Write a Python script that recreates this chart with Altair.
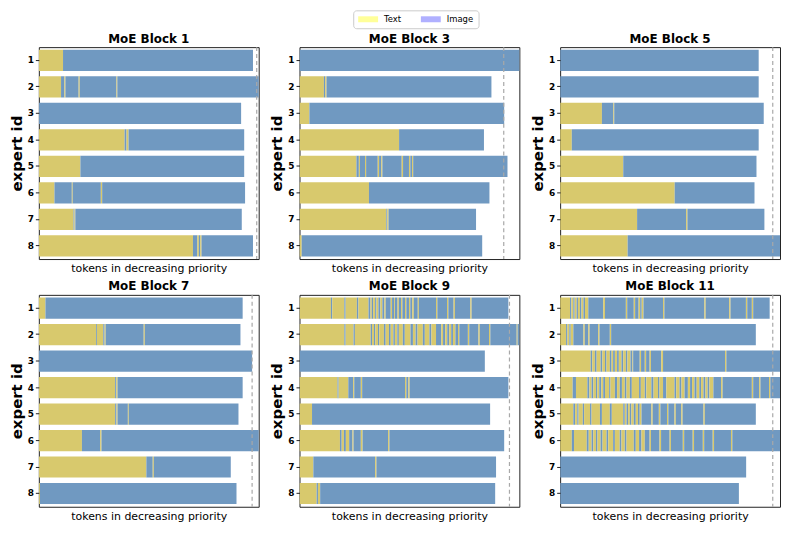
import altair as alt
import pandas as pd

BLOCK_NAMES = ["MoE Block 1", "MoE Block 3", "MoE Block 5",
               "MoE Block 7", "MoE Block 9", "MoE Block 11"]
EXPERT_IDS = ["1", "2", "3", "4", "5", "6", "7", "8"]
TOKEN_TYPES = ["Text", "Image"]
BAR_COLORS = ["#d8c96d", "#7099c1"]
LEGEND_COLORS = ["#ffff99", "#b0b0ff"]

# capacity (dashed line) per block, in % of axis width
CAPACITY = [99.1, 92.9, 96.7, 97.0, 95.5, 96.7]

# Each expert: boundaries of alternating runs, starting with Text then Image
BLOCK_1 = [
    [0, 11.0, 97.4],
    [0, 10.1, 11.6, 12.1, 18.1, 18.6, 35.3, 35.7, 105],
    [0, 0, 92.0],
    [0, 39.0, 39.9, 40.8, 93.4],
    [0, 18.9, 93.4],
    [0, 7.1, 15.0, 15.4, 28.2, 28.8, 93.8],
    [0, 15.8, 16.2, 16.6, 92.3],
    [0, 70.1, 72.1, 72.8, 73.4, 74.0, 97.4],
]
BLOCK_3 = [
    [0, 0, 105],
    [0, 11.1, 11.7, 12.3, 87.3],
    [0, 4.5, 93.1],
    [0, 45.3, 83.9],
    [0, 25.9, 27.0, 27.5, 29.8, 30.3, 35.6, 36.2, 37.2, 37.7, 46.5, 47.1,
     49.8, 50.4, 51.2, 51.7, 94.6],
    [0, 31.6, 86.4],
    [0, 39.5, 39.9, 40.5, 80.3],
    [0, 1.0, 83.1],
]
BLOCK_5 = [
    [0, 0, 90.3],
    [0, 0, 90.3],
    [0, 19.0, 24.2, 24.6, 92.6],
    [0, 5.3, 90.3],
    [0, 28.7, 89.3],
    [0, 52.1, 88.4],
    [0, 35.0, 57.3, 57.9, 92.9],
    [0, 30.7, 105],
]
BLOCK_7 = [
    [0, 3.0, 92.7],
    [0, 26.0, 26.4, 29.3, 29.9, 30.4, 47.7, 48.2, 91.7],
    [0, 0, 97.0],
    [0, 34.7, 35.2, 35.8, 92.7],
    [0, 34.7, 35.3, 35.8, 40.5, 40.9, 90.8],
    [0, 19.6, 27.9, 28.5, 105],
    [0, 48.9, 51.8, 52.3, 87.3],
    [0, 0.5, 89.9],
]
BLOCK_9 = [
    [0, 14.3, 14.9, 20.4, 21.0, 26.1, 26.8, 31.4, 32.3, 32.9, 33.5, 34.4,
     35.0, 35.9, 36.8, 37.7, 38.6, 39.2, 41.5, 42.1, 43.0, 43.4, 44.6, 45.2,
     46.2, 46.8, 48.0, 48.6, 49.8, 50.4, 51.3, 52.0, 53.8, 54.3, 62.1, 62.7,
     67.1, 67.7, 70.1, 70.7, 77.7, 78.3, 95.0],
    [0, 20.4, 21.0, 24.6, 25.2, 32.4, 33.0, 33.9, 34.5, 35.7, 36.3, 38.4,
     39.2, 40.7, 41.5, 42.7, 43.4, 44.5, 45.2, 47.0, 47.9, 50.5, 51.6, 52.8,
     53.7, 56.1, 57.0, 59.1, 60.0, 62.1, 64.5, 65.3, 66.3, 67.2, 68.1, 69.0,
     69.8, 70.9, 72.1, 72.7, 76.6, 77.2, 81.4, 82.0, 86.2, 86.8, 98.8, 99.2,
     105],
    [0, 0, 84.3],
    [0, 17.3, 17.8, 22.2, 24.4, 24.9, 27.9, 28.5, 48.0, 48.6, 49.5, 50.1, 95.0],
    [0, 5.7, 86.7],
    [0, 18.4, 19.2, 20.2, 21.1, 22.6, 24.1, 24.6, 27.9, 28.7, 40.3, 40.9, 93.1],
    [0, 6.3, 34.4, 35.0, 89.4],
    [0, 7.8, 8.4, 9.4, 89.0],
]
BLOCK_11 = [
    [0, 4.5, 5.1, 6.0, 6.6, 7.5, 8.1, 9.0, 9.7, 10.6, 11.3, 12.8, 19.6, 20.4,
     29.9, 30.5, 33.5, 34.1, 35.7, 36.4, 37.1, 37.9, 46.8, 47.4, 65.6, 66.2,
     76.9, 77.5, 84.5, 85.1, 87.2, 87.8, 95.3],
    [0, 2.7, 3.3, 4.2, 4.8, 6.0, 10.6, 11.2, 12.8, 13.4, 17.3, 17.9, 22.6,
     23.2, 89.0],
    [0, 13.9, 14.6, 15.8, 16.6, 18.4, 19.2, 20.4, 21.1, 22.6, 23.4, 24.1, 24.9,
     25.9, 26.7, 27.9, 28.7, 29.9, 30.6, 32.0, 32.9, 33.2, 36.2, 36.8, 38.5,
     39.1, 40.7, 41.3, 46.0, 46.8, 75.0, 75.6, 105],
    [0, 5.7, 7.2, 12.4, 13.3, 14.3, 15.1, 16.3, 16.9, 17.8, 18.7, 19.6, 20.4,
     22.3, 22.9, 24.9, 25.9, 27.1, 28.1, 29.4, 30.2, 31.7, 32.6, 35.9, 36.7,
     38.5, 39.2, 41.5, 42.5, 44.5, 45.2, 46.8, 48.3, 52.0, 52.8, 54.3, 55.2,
     56.6, 58.1, 59.1, 60.0, 61.1, 62.1, 63.3, 64.1, 65.2, 66.1, 67.1, 67.9,
     69.7, 73.2, 73.9, 87.2, 87.8, 90.5, 91.1, 95.0, 95.6, 105],
    [0, 6.0, 6.8, 7.8, 8.4, 10.3, 10.9, 13.6, 14.3, 18.1, 19.0, 22.6, 23.5,
     28.7, 29.4, 30.2, 30.9, 31.7, 32.4, 33.5, 34.4, 35.4, 36.2, 37.0, 41.5,
     42.1, 44.9, 45.6, 48.6, 49.2, 52.0, 52.6, 55.1, 55.7, 65.2, 65.8, 89.0],
    [0, 5.3, 6.3, 12.1, 13.0, 14.3, 15.1, 16.3, 17.0, 18.4, 19.3, 21.1, 21.9,
     24.1, 24.9, 27.1, 27.9, 29.4, 30.2, 33.5, 34.4, 35.9, 37.0, 38.5, 40.7,
     41.3, 45.2, 45.9, 49.8, 50.4, 55.8, 56.4, 60.3, 60.9, 64.9, 65.5, 69.4,
     70.0, 77.7, 78.3, 105],
    [0, 0, 84.6],
    [0, 0, 81.3],
]
BLOCKS = [BLOCK_1, BLOCK_3, BLOCK_5, BLOCK_7, BLOCK_9, BLOCK_11]

rows = []
for name, experts in zip(BLOCK_NAMES, BLOCKS):
    for eid, bounds in zip(EXPERT_IDS, experts):
        for k in range(len(bounds) - 1):
            if bounds[k + 1] > bounds[k]:
                rows.append({"block": name, "expert": eid,
                             "start": bounds[k], "end": bounds[k + 1],
                             "kind": TOKEN_TYPES[k % 2]})
df = pd.DataFrame(rows)

FONT = "DejaVu Sans"
X_TITLE = "tokens in decreasing priority"


def x_axis():
    return alt.Axis(title=X_TITLE, labels=False, ticks=False, domain=False,
                    grid=False, titlePadding=4, titleFontSize=11,
                    titleFontWeight="normal", titleFont=FONT,
                    titleColor="black")


X_SCALE = alt.Scale(domain=[0, 100], nice=False, zero=False)


def panel(i, name):
    d = df[df["block"] == name]
    bars = alt.Chart(d).mark_rect(clip=True).encode(
        x=alt.X("start:Q", scale=X_SCALE, axis=x_axis()),
        x2="end:Q",
        y=alt.Y("expert:N", sort=EXPERT_IDS,
                scale=alt.Scale(domain=EXPERT_IDS, paddingInner=0.2,
                                paddingOuter=0.1),
                axis=alt.Axis(title="expert id", labelFontWeight="bold",
                              labelFontSize=9, labelFont=FONT,
                              labelColor="black", tickSize=3.5,
                              tickColor="#222222", labelPadding=2,
                              titleFontSize=15, titleFontWeight="bold",
                              titleFont=FONT, titleColor="black",
                              titlePadding=3, domain=False, grid=False,
                              labelAngle=0)),
        color=alt.Color("kind:N",
                        scale=alt.Scale(domain=TOKEN_TYPES, range=BAR_COLORS),
                        legend=None),
    )
    rule = alt.Chart(pd.DataFrame({"capacity": [CAPACITY[i]]})).mark_rule(
        strokeDash=[4, 3], color="#a8a8a8", strokeWidth=1.2
    ).encode(x=alt.X("capacity:Q", scale=X_SCALE, axis=x_axis()))
    return alt.layer(bars, rule).properties(width=221, height=213, title=name)


grid = alt.concat(
    *[panel(i, n) for i, n in enumerate(BLOCK_NAMES)],
    columns=3,
    spacing={"row": 36, "column": 41},
    bounds="flush",
)

# ---- legend drawn as a small chart ----
legend_df = pd.DataFrame({"kind": TOKEN_TYPES})
legend_base = alt.Chart(legend_df).encode(
    x=alt.X("kind:N", sort=TOKEN_TYPES,
            scale=alt.Scale(type="point", padding=0.5), axis=None)
)
legend_patches = legend_base.mark_point(
    shape="M-26.5,-3h20v6h-20Z", size=4, filled=True, opacity=1,
    strokeWidth=0
).encode(
    fill=alt.Fill("kind:N",
                  scale=alt.Scale(domain=TOKEN_TYPES, range=LEGEND_COLORS),
                  legend=None)
)
legend_labels = legend_base.mark_text(
    align="left", baseline="middle", dx=-0.5, font=FONT, fontSize=8.5,
    color="black"
).encode(text="kind:N")
legend_box = alt.layer(legend_patches, legend_labels).properties(
    width=126, height=18,
    view=alt.ViewBackground(stroke="#cccccc", strokeWidth=1,
                            cornerRadius=3, fill="white"),
)
spacer = alt.Chart(legend_df).mark_point(opacity=0).properties(
    width=315, height=18,
    view=alt.ViewBackground(strokeOpacity=0),
)
legend_row = alt.hconcat(spacer, legend_box, spacing=0)

chart = alt.vconcat(legend_row, grid, spacing=2).properties(
    padding=0
).configure_view(
    stroke="#222222", strokeWidth=1
).configure_title(
    font=FONT, fontSize=12, fontWeight="bold", color="black", offset=1
)

chart.save("out.html", embed_options={"renderer": "svg", "actions": False})
